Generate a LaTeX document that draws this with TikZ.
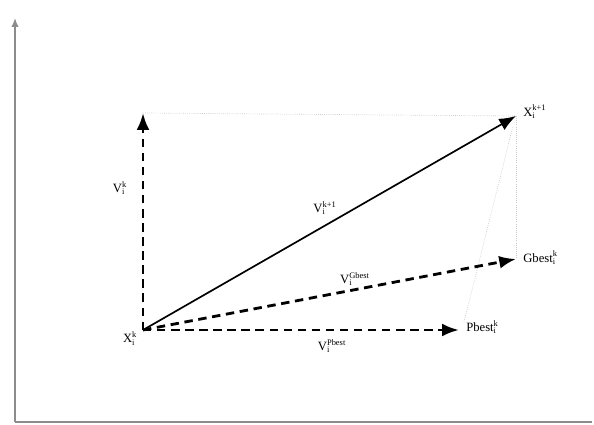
\documentclass[tikz,border=0pt]{standalone}
\usepackage{fontspec}
\usepackage{amsmath}
\setmainfont{Liberation Serif}
\usepackage{tikz}
\usetikzlibrary{arrows.meta,positioning,calc}
\definecolor{Axis}{HTML}{8C8C8C}
\definecolor{Guide}{HTML}{C8C8C8}

% label with subscript i and a superscript
\newcommand{\vlab}[2]{#1$_{\text{i}}^{\text{#2}}$}

\begin{document}
\begin{tikzpicture}[
    x=0.025cm,y=-0.025cm,
    lbl/.style={font=\small,inner sep=1pt},
    axis/.style={-{Latex[length=2.2mm,width=1.8mm]},line width=1pt,draw=Axis},
    dasharrow/.style={-{Latex[length=4.2mm,width=3.2mm]},line width=2pt,dash pattern=on 6pt off 4pt},
    solidarrow/.style={-{Latex[length=4.2mm,width=3.2mm]},line width=1.2pt},
    guide/.style={densely dotted,line width=0.5pt,draw=Guide}
]
\useasboundingbox (0,0) rectangle (594,424);
% axes
\coordinate (o) at (15,422);
\coordinate (ytop) at (15,18);
\coordinate (xend) at (592,422);
\draw[axis] (o) -- (ytop);
\draw[line width=1pt,draw=Axis] (o) -- (xend);

% points
\coordinate (xk) at (143,330);
\coordinate (vk) at (143,113);
\coordinate (xk1) at (516,116);
\coordinate (gb) at (516,259);
\coordinate (pb) at (459,330);

% guides
\draw[guide] (vk) -- (xk1);
\draw[guide] (xk1) -- (gb);
\draw[guide] (pb) ++(5,-8) -- ($(xk1)+(-3,10)$);

% vectors
\draw[dasharrow] (xk) -- (vk);
\draw[dasharrow] (xk) -- (pb);
\draw[dasharrow] (xk) -- (gb);
\draw[solidarrow] (xk) -- (xk1);

% labels
\node[lbl,left=3pt of xk,yshift=-6pt] (lxk) {\vlab{X}{k}};
\node[lbl,right=4pt of xk1,yshift=3pt] (lxk1) {\vlab{X}{k+1}};
\node[lbl,right=4pt of gb,yshift=1pt] (lgb) {\vlab{Gbest}{k}};
\node[lbl,right=4pt of pb,yshift=2pt] (lpb) {\vlab{Pbest}{k}};
\node[lbl] (lvk) at (120,188) {\vlab{V}{k}};
\node[lbl] (lvk1) at (325,208) {\vlab{V}{k+1}};
\node[lbl] (lvg) at (355,279) {\vlab{V}{Gbest}};
\node[lbl] (lvp) at (332,346) {\vlab{V}{Pbest}};
\end{tikzpicture}
\end{document}
